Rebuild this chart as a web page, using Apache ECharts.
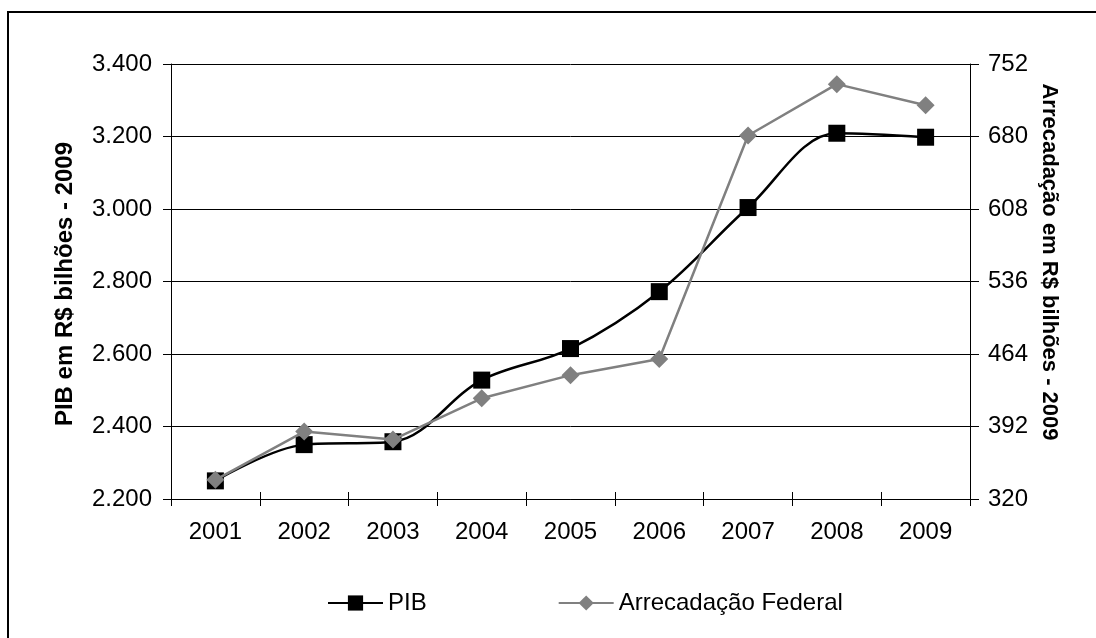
<!DOCTYPE html>
<html>
<head>
<meta charset="utf-8">
<script src="https://cdn.jsdelivr.net/npm/echarts@6/dist/echarts.min.js"></script>
<style>html,body{margin:0;padding:0;background:#fff}#c{width:1096px;height:638px}</style>
</head>
<body>
<div id="c"></div>
<script>
const categories = ['2001','2002','2003','2004','2005','2006','2007','2008','2009'];
const pib = [2250, 2350, 2358, 2528, 2615, 2772, 3004, 3209, 3198];
const arrecadacao = [339, 387, 379, 420, 443, 459, 681, 732, 711];
const leftAxisTitle = 'PIB em R$ bilhões - 2009';
const rightAxisTitle = 'Arrecadação em R$ bilhões - 2009';
const seriesNames = ['PIB', 'Arrecadação Federal'];

const FONT = '"Liberation Sans", Arial, sans-serif';
const FS = 24;
const chart = echarts.init(document.getElementById('c'), null, {renderer: 'canvas'});
const fmtThousands = v => String(v).replace(/\B(?=(\d{3})+(?!\d))/g, '.');

chart.setOption({
  backgroundColor: '#fff',
  animation: false,
  textStyle: {fontFamily: FONT},
  grid: {left: 171, right: 126, top: 64, bottom: 139, containLabel: false},
  legend: {
    left: 322, top: 586, itemWidth: 55, itemHeight: 19, itemGap: 131,
    textStyle: {fontFamily: FONT, fontSize: FS, color: '#000'},
    data: seriesNames
  },
  xAxis: [{
    type: 'category', data: categories, boundaryGap: true,
    axisLine: {lineStyle: {color: '#000', width: 1}},
    axisTick: {show: true, inside: false, length: 7, lineStyle: {color: '#000'}},
    axisLabel: {color: '#000', fontSize: FS, fontFamily: FONT, margin: 21},
    splitLine: {show: false}
  }, {
    type: 'category', data: categories, boundaryGap: true, position: 'bottom',
    axisLine: {show: false},
    axisTick: {show: true, inside: true, length: 7, lineStyle: {color: '#000'}},
    axisLabel: {show: false},
    splitLine: {show: false}
  }],
  yAxis: [{
    type: 'value', min: 2200, max: 3400, interval: 200, position: 'left',
    axisLine: {show: true, lineStyle: {color: '#000'}},
    axisTick: {show: true, length: 8, lineStyle: {color: '#000'}},
    axisLabel: {color: '#000', fontSize: FS, fontFamily: FONT, margin: 19, formatter: fmtThousands},
    splitLine: {show: true, lineStyle: {color: '#000', width: 1}}
  }, {
    type: 'value', min: 320, max: 752, interval: 72, position: 'right',
    axisLine: {show: true, lineStyle: {color: '#000'}},
    axisTick: {show: true, length: 9, lineStyle: {color: '#000'}},
    axisLabel: {color: '#000', fontSize: FS, fontFamily: FONT, margin: 18},
    splitLine: {show: false}
  }],
  series: [{
    name: seriesNames[0], type: 'line', data: pib, yAxisIndex: 0,
    smooth: 0.35, symbol: 'rect', symbolSize: 17,
    lineStyle: {color: '#000', width: 2.5},
    itemStyle: {color: '#000'}, z: 3
  }, {
    name: seriesNames[1], type: 'line', data: arrecadacao, yAxisIndex: 1,
    smooth: false, symbol: 'diamond', symbolSize: 18,
    lineStyle: {color: '#808080', width: 2.5},
    itemStyle: {color: '#808080'}, z: 4
  }],
  graphic: [
    {type: 'rect', shape: {x: 8, y: 12, width: 1200, height: 1000}, style: {fill: null, stroke: '#000', lineWidth: 2}, silent: true, z: -1},
    {type: 'text', x: 65, y: 284, rotation: Math.PI / 2,
      style: {text: leftAxisTitle, font: 'bold 24px ' + FONT, fill: '#000', textAlign: 'center', textVerticalAlign: 'middle'}},
    {type: 'text', x: 1049, y: 262, rotation: -Math.PI / 2,
      style: {text: rightAxisTitle, font: 'bold 22px ' + FONT, fill: '#000', textAlign: 'center', textVerticalAlign: 'middle'}}
  ]
});
</script>
</body>
</html>
